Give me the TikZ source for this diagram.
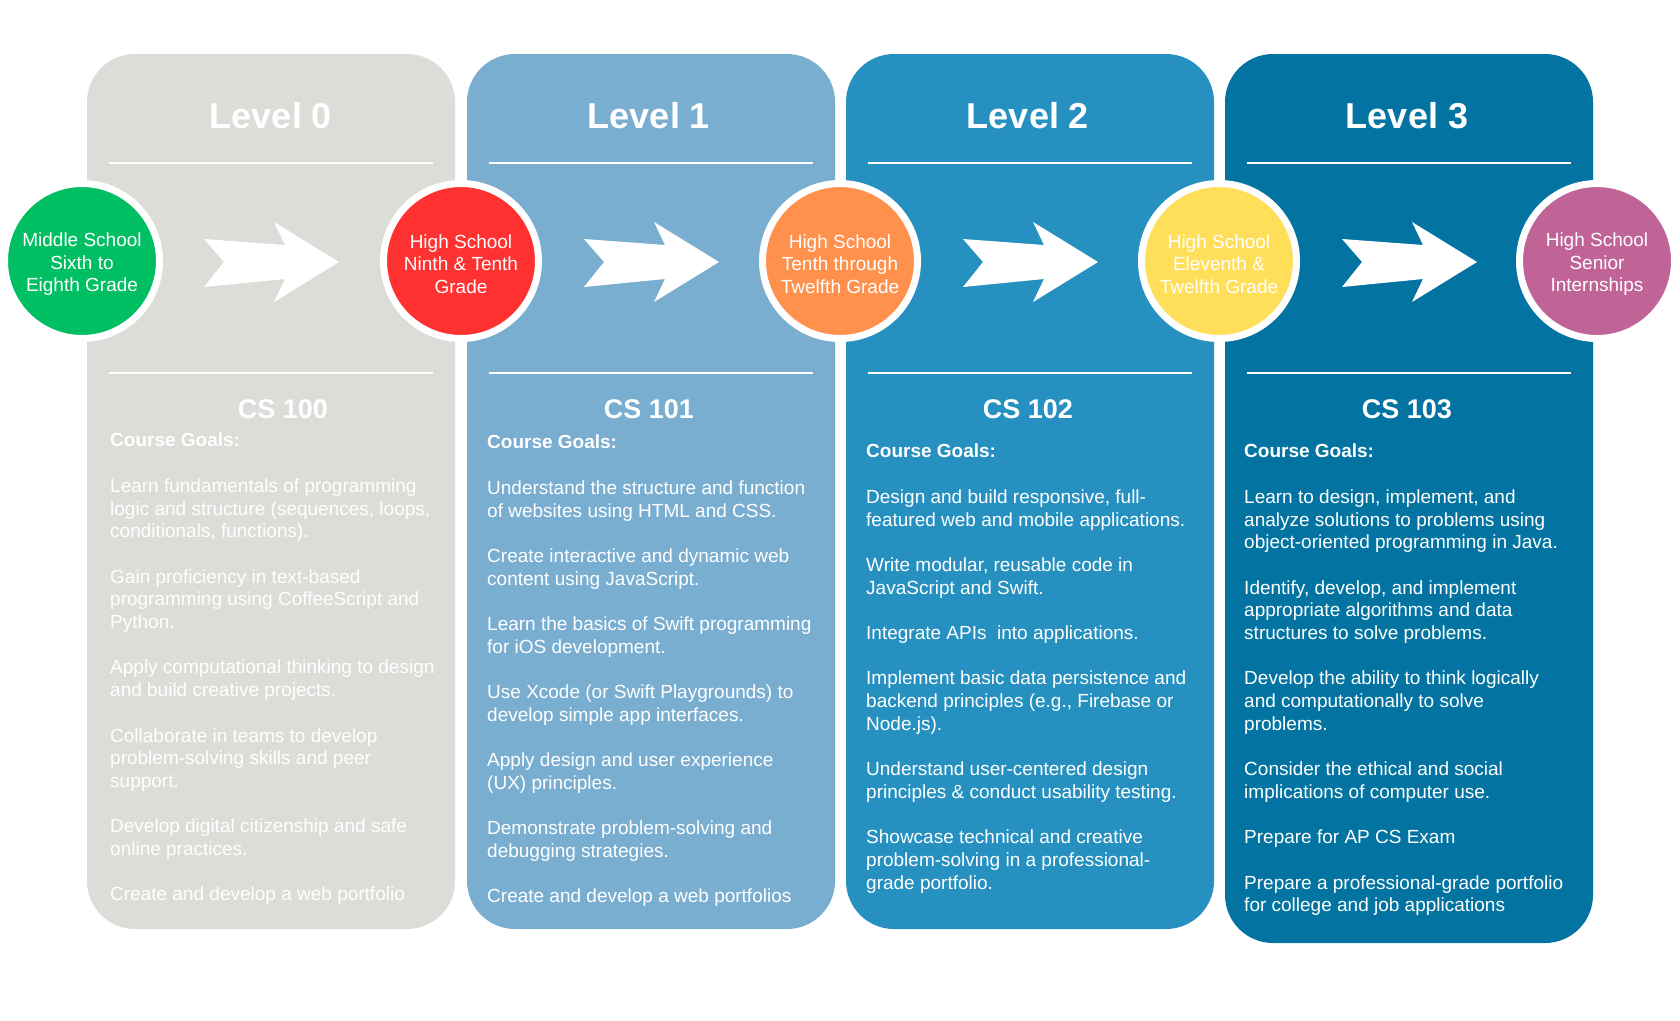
\documentclass[tikz,border=0pt]{standalone}
\usepackage{fontspec}
\setmainfont{Liberation Sans}
\usepackage{xcolor}
\usetikzlibrary{positioning}
\definecolor{GreyLvl}{HTML}{DCDCD8}
\definecolor{SkyLvl}{HTML}{79AED1}
\definecolor{MidLvl}{HTML}{2691C0}
\definecolor{DeepLvl}{HTML}{0374A2}
\definecolor{GradeGreen}{HTML}{00BF63}
\definecolor{GradeRed}{HTML}{FF3131}
\definecolor{GradeOrange}{HTML}{FF914D}
\definecolor{GradeYellow}{HTML}{FFDE59}
\definecolor{GradePurple}{HTML}{C06498}
\newcommand{\gtop}{\rule{0pt}{20pt}}

\begin{document}
\begin{tikzpicture}[x=1pt,y=-1pt,
  ttl/.style={text=white,font=\fontsize{36}{43}\selectfont\bfseries,
              anchor=base,inner sep=0pt},
  crs/.style={text=white,font=\fontsize{27}{32}\selectfont\bfseries,
              anchor=base,inner sep=0pt},
  goals/.style={text=white,font=\fontsize{19}{22.7}\selectfont,align=left,
                anchor=north west,inner sep=0pt},
  grade/.style={circle,minimum size=155pt,inner sep=0pt,draw=white,
                line width=7pt,text=white,font=\fontsize{19}{22.5}\selectfont,
                align=center},
  divider/.style={white,line width=2.5pt}]
\fill[white] (0,0) rectangle (1680,1020);
\foreach \px/\col/\bot in {87/GreyLvl/929,467/SkyLvl/929,846/MidLvl/929,1225/DeepLvl/943}
  \fill[\col,rounded corners=48pt] (\px,54) rectangle (\px+368,\bot);
\foreach \px in {87,467,846,1225} {
  \draw[divider] (\px+22,163) -- (\px+346,163);
  \draw[divider] (\px+22,373) -- (\px+346,373);
}
\foreach \cx in {271,651,1030,1409}
  \fill[white] (\cx-67,239) -- (\cx-47,262) -- (\cx-67,287) -- (\cx+14,279)
    -- (\cx+3,302) -- (\cx+68,262) -- (\cx+3,222) -- (\cx+14,245) -- cycle;
\node[ttl] (lvl0) at (271,128) {Level 0};
\node[ttl] (lvl1) at (649,128) {Level 1};
\node[ttl] (lvl2) at (1028,128) {Level 2};
\node[ttl] (lvl3) at (1407,128) {Level 3};
\node[grade,fill=GradeGreen] (g0) at (82,261) {\gtop Middle School\\Sixth to\\Eighth Grade};
\node[grade,fill=GradeRed] (g1) at (461,261) {\gtop High School\\Ninth \& Tenth\\Grade};
\node[grade,fill=GradeOrange] (g2) at (840,261) {\gtop High School\\Tenth through\\Twelfth Grade};
\node[grade,fill=GradeYellow] (g3) at (1219,261) {\gtop High School\\Eleventh \&\\Twelfth Grade};
\node[grade,fill=GradePurple] (g4) at (1597,261) {\gtop High School\\Senior\\Internships};
\node[crs] (cs0) at (283,418) {CS 100};
\node[crs] (cs1) at (649,418) {CS 101};
\node[crs] (cs2) at (1028,418) {CS 102};
\node[crs] (cs3) at (1407,418) {CS 103};
\node[goals] (goal0) at (110,433) {\textbf{Course Goals:}\\[22.7pt]
  Learn fundamentals of programming\\logic and structure (sequences, loops,\\
  conditionals, functions).\\[22.7pt]
  Gain proficiency in text-based\\programming using CoffeeScript and\\Python.\\[22.7pt]
  Apply computational thinking to design\\and build creative projects.\\[22.7pt]
  Collaborate in teams to develop\\problem-solving skills and peer\\support.\\[22.7pt]
  Develop digital citizenship and safe\\online practices.\\[22.7pt]
  Create and develop a web portfolio};
\node[goals] (goal1) at (487,435) {\textbf{Course Goals:}\\[22.7pt]
  Understand the structure and function\\of websites using HTML and CSS.\\[22.7pt]
  Create interactive and dynamic web\\content using JavaScript.\\[22.7pt]
  Learn the basics of Swift programming\\for iOS development.\\[22.7pt]
  Use Xcode (or Swift Playgrounds) to\\develop simple app interfaces.\\[22.7pt]
  Apply design and user experience\\(UX) principles.\\[22.7pt]
  Demonstrate problem-solving and\\debugging strategies.\\[22.7pt]
  Create and develop a web portfolios};
\node[goals] (goal2) at (866,444) {\textbf{Course Goals:}\\[22.7pt]
  Design and build responsive, full-\\featured web and mobile applications.\\[22.7pt]
  Write modular, reusable code in\\JavaScript and Swift.\\[22.7pt]
  Integrate APIs\ \ into applications.\\[22.7pt]
  Implement basic data persistence and\\backend principles (e.g., Firebase or\\
  Node.js).\\[22.7pt]
  Understand user-centered design\\principles \& conduct usability testing.\\[22.7pt]
  Showcase technical and creative\\problem-solving in a professional-\\
  grade portfolio.};
\node[goals] (goal3) at (1244,444) {\textbf{Course Goals:}\\[22.7pt]
  Learn to design, implement, and\\analyze solutions to problems using\\
  object-oriented programming in Java.\\[22.7pt]
  Identify, develop, and implement\\appropriate algorithms and data\\
  structures to solve problems.\\[22.7pt]
  Develop the ability to think logically\\and computationally to solve\\
  problems.\\[22.7pt]
  Consider the ethical and social\\implications of computer use.\\[22.7pt]
  Prepare for AP CS Exam\\[22.7pt]
  Prepare a professional-grade portfolio\\for college and job applications};
\end{tikzpicture}
\end{document}
